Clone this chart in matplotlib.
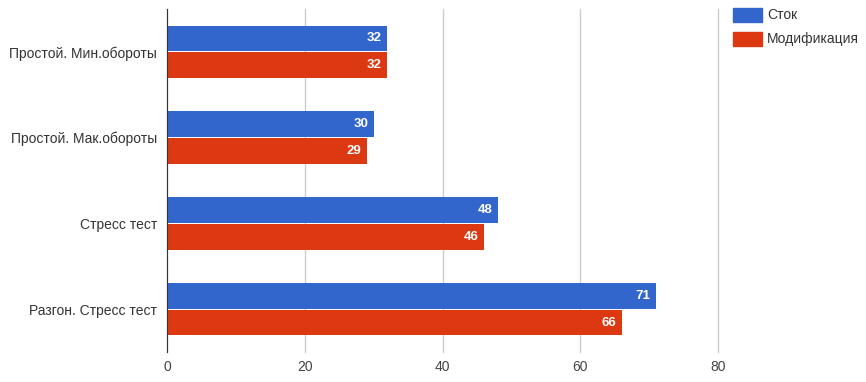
import matplotlib.pyplot as plt
from matplotlib.patches import Rectangle
import numpy as np

plt.rcParams['font.family'] = ['Liberation Sans', 'DejaVu Sans']

categories = ["Простой. Мин.обороты", "Простой. Мак.обороты", "Стресс тест", "Разгон. Стресс тест"]
stock = [32, 30, 48, 71]
modified = [32, 29, 46, 66]
series_names = ["Сток", "Модификация"]
colors = ["#3366cc", "#dc3912"]

W, H = 866, 382
fig = plt.figure(figsize=(W / 100, H / 100), dpi=100)
ax = fig.add_axes([167 / W, 1 - 352 / H, (718 - 167) / W, (352 - 9) / H])

y = np.arange(len(categories))
h = 0.3
b1 = ax.barh(y - h / 2 - 0.006, stock, height=h, color=colors[0], zorder=2)
b2 = ax.barh(y + h / 2 + 0.006, modified, height=h, color=colors[1], zorder=2)

for bars, vals in ((b1, stock), (b2, modified)):
    for bar, v in zip(bars, vals):
        ax.text(v - 0.8, bar.get_y() + bar.get_height() / 2, str(v), ha="right", va="center",
                color="white", fontsize=9.5, fontweight="bold", zorder=3)

ax.set_xlim(0, 80)
ax.set_ylim(len(categories) - 0.5, -0.5)
ax.set_xticks([0, 20, 40, 60, 80])
ax.set_yticks(y)
ax.set_yticklabels(categories)
ax.tick_params(axis="both", length=0, labelsize=10, colors="#444444")
ax.tick_params(axis="y", pad=7, labelcolor="#333333")
ax.tick_params(axis="x", pad=6)
ax.grid(axis="x", color="#cccccc", linewidth=1, zorder=0)
for line in ax.get_xgridlines():
    line.set_clip_on(False)
for s in ["top", "right", "bottom"]:
    ax.spines[s].set_visible(False)
ax.spines["left"].set_color("#333333")
ax.spines["left"].set_zorder(4)

# legend
for i, (name, c) in enumerate(zip(series_names, colors)):
    top = 8 + i * 24
    fig.add_artist(Rectangle((733 / W, 1 - (top + 14) / H), 29 / W, 14 / H,
                             transform=fig.transFigure, color=c))
    fig.text(767 / W, 1 - (top + 7) / H, name, ha="left", va="center",
             fontsize=10, color="#333333")

fig.savefig("out.png", dpi=100)
